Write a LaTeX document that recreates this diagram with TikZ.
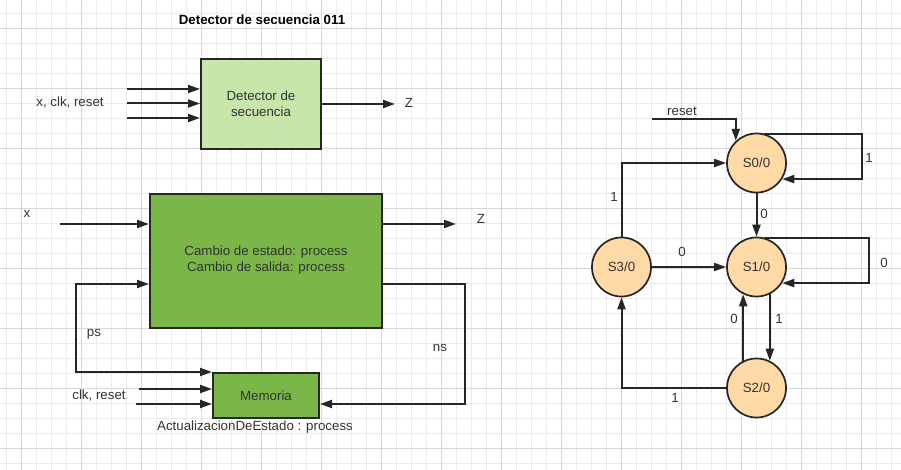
\documentclass[tikz,border=0pt]{standalone}
\usepackage{fontspec}
\setmainfont{Liberation Sans}
\usetikzlibrary{arrows.meta}
\definecolor{lightgreen}{HTML}{C7E6AA}
\definecolor{midgreen}{HTML}{7AB648}
\definecolor{stateorange}{HTML}{FFD9A6}
\definecolor{gridthin}{HTML}{EBEBEB}
\definecolor{gridthick}{HTML}{D8D8D8}
\definecolor{txt}{HTML}{333333}
\begin{document}
\begin{tikzpicture}[x=1pt,y=-1pt,
  font=\fontsize{13.3}{16}\selectfont,
  lbl/.style={text=txt,inner sep=0pt},
  box/.style={draw=black!85,line width=2pt,align=center,text=txt,inner sep=0pt},
  state/.style={circle,draw=black!85,line width=1.7pt,fill=stateorange,minimum size=59pt,inner sep=0pt,text=txt},
  arr/.style={line width=2pt,draw=black!85,-{Triangle[length=12pt,width=8pt]}},
  dblarr/.style={line width=2pt,draw=black!85,{Triangle[length=12pt,width=8pt]}-{Triangle[length=12pt,width=8pt]}},
  gthin/.style={draw=gridthin,line width=1pt},
  gthick/.style={draw=gridthick,line width=1pt}]
\useasboundingbox (0,0) rectangle (901,470);
\fill[white] (0,0) rectangle (901,470);
% grid
\foreach \i in {0,...,59} {\draw[gthin] (6.5+15*\i,0) -- (6.5+15*\i,470);}
\foreach \i in {0,...,31} {\draw[gthin] (0,13.5+15*\i) -- (901,13.5+15*\i);}
\foreach \i in {0,...,14} {\draw[gthick] (21.5+60*\i,0) -- (21.5+60*\i,470);}
\foreach \i in {0,...,7} {\draw[gthick] (0,28.5+60*\i) -- (901,28.5+60*\i);}

% title
\node[lbl,text=black] (title) at (262,20) {\bfseries Detector de secuencia 011};

% top block
\node[box,fill=lightgreen,minimum width=120pt,minimum height=90pt] (det) at (261,104) {Detector de\\secuencia};
\coordinate (i1) at (127,89);
\coordinate (i2) at (127,103.5);
\coordinate (i3) at (127,118);
\draw[arr] (i1) -- (i1 -| det.west);
\draw[arr] (i2) -- (i2 -| det.west);
\draw[arr] (i3) -- (i3 -| det.west);
\node[lbl] (inlbl) at (70,103) {x, clk, reset};
\coordinate (zo1) at (395,104);
\draw[arr] (zo1 -| det.east) -- (zo1);
\node[lbl] (z1) at (409,103) {Z};

% big block
\node[box,fill=midgreen,minimum width=232pt,minimum height=134pt] (big) at (266,261) {};
\node[lbl,align=center] (bigtxt) at (266,260) {Cambio de estado: process\\Cambio de salida: process};
\coordinate (xin) at (60,224);
\draw[arr] (xin) -- (xin -| big.west);
\node[lbl] (xl) at (27,214) {x};
\coordinate (zo2) at (456,224);
\draw[arr] (zo2 -| big.east) -- (zo2);
\node[lbl] (z2) at (481,219) {Z};

% memory
\node[box,fill=midgreen,minimum width=106pt,minimum height=45pt] (mem) at (266,395.5) {Memoria};
\node[lbl] (actl) at (255,427) {ActualizacionDeEstado : process};
\coordinate (pc) at (76,284);
\draw[dblarr] (mem.north west) -| (pc) -- (pc -| big.west);
\node[lbl] (psl) at (94,334) {ps};
\coordinate (nc) at (465,284);
\coordinate (nd) at (465,404);
\draw[arr] (nc -| big.east) -- (nc) -- (nd) -- (nd -| mem.east);
\node[lbl] (nsl) at (440,348) {ns};
\coordinate (c1) at (139,389);
\coordinate (c2) at (136,404);
\draw[arr] (c1) -- (c1 -| mem.west);
\draw[arr] (c2) -- (c2 -| mem.west);
\node[lbl] (clkl) at (99,396) {clk, reset};

% state machine
\node[state] (s0) at (756.5,163) {S0/0};
\node[state] (s1) at (756.5,267) {S1/0};
\node[state] (s2) at (756.5,388) {S2/0};
\node[state] (s3) at (621.5,267) {S3/0};

\coordinate (rs) at (652,119);
\draw[arr] (rs) -| (s0.133);
\node[lbl] (rsl) at (682,111) {reset};

\coordinate (l0) at (862,157);
\draw[arr] (s0.75) -| (l0) |- (s0.-32);
\node[lbl] (l0l) at (869,158) {1};

\draw[arr] (s0) -- (s1);
\node[lbl] (e01) at (764,214) {0};

\draw[arr] (s3.north) |- (s0.west);
\node[lbl] (e30) at (614,197) {1};

\draw[arr] (s3) -- (s1);
\node[lbl] (e31) at (682,252) {0};

\coordinate (l1) at (869,260);
\draw[arr] (s1.75) -| (l1) |- (s1.-32);
\node[lbl] (l1l) at (884,263) {0};

\draw[arr] (s1.-64) -- (s2.64);
\node[lbl] (e12) at (779,319) {1};
\draw[arr] (s2.116) -- (s1.-116);
\node[lbl] (e21) at (734,319) {0};

\draw[arr] (s2.west) -| (s3.south);
\node[lbl] (e23) at (675,398) {1};
\end{tikzpicture}
\end{document}
